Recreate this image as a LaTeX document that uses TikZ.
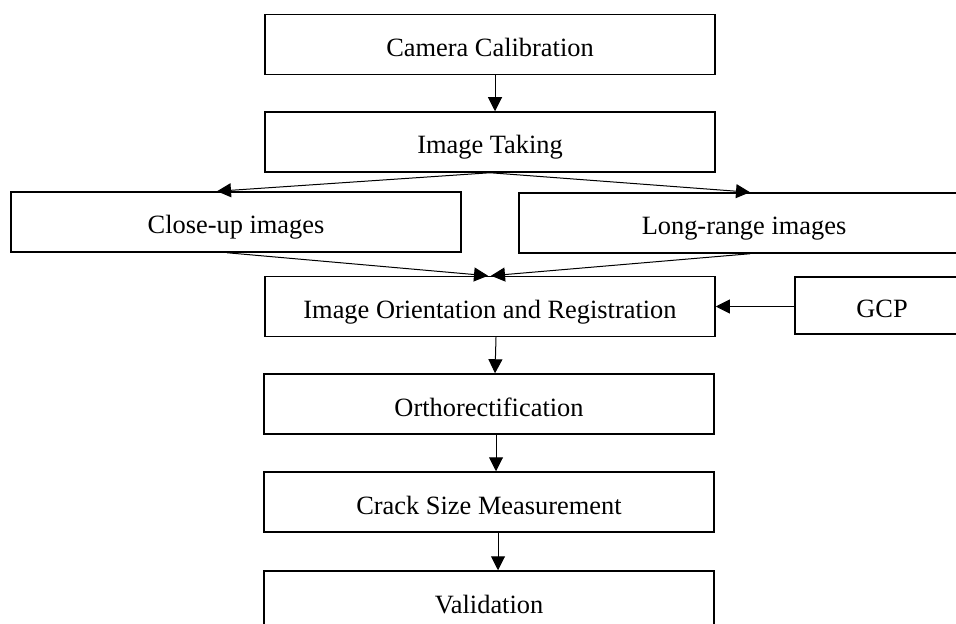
\documentclass[tikz,border=0pt]{standalone}
\usepackage{fontspec}
\setmainfont{Liberation Serif}
\usetikzlibrary{arrows.meta}

\begin{document}
\begin{tikzpicture}[x=0.5pt, y=-0.5pt,
    stage/.style={draw, line width=0.75pt, minimum width=225pt, minimum height=30pt,
        inner sep=0pt, text height=12pt, text depth=0pt,
        font=\fontsize{13.2}{15}\selectfont},
    flow/.style={-{Triangle[length=7pt, width=7pt]}, line width=0.5pt}]
    \useasboundingbox (0,0) rectangle (956,624);

    \node[stage] (cam) at (490,44.5) {Camera Calibration};
    \node[stage] (take) at (490,142) {Image Taking};
    \node[stage] (close) at (236,222) {Close-up images};
    \node[stage] (long) at (744,223) {Long-range images};
    \node[stage] (orient) at (490,306.5) {Image Orientation and Registration};
    \node[stage, minimum width=87pt, minimum height=28.5pt] (gcp) at (882,305.5) {GCP};
    \node[stage] (ortho) at (489,404) {Orthorectification};
    \node[stage] (crack) at (489,502) {Crack Size Measurement};
    \node[stage] (valid) at (489,601) {Validation};

    \path[flow] ([xshift=2.5pt]cam.south) edge ([xshift=2.5pt]take.north);
    \path[flow] (take.south) edge ([xshift=-9.5pt]close.north);
    \path[flow] (take.south) edge ([xshift=3pt]long.north);
    \path[flow] ([xshift=-4.5pt]close.south) edge ([xshift=-1pt]orient.north);
    \path[flow] ([xshift=3pt]long.south) edge ([xshift=0.5pt]orient.north);
    \path[flow] (gcp.west |- orient.east) edge (orient.east);
    \path[flow] ([xshift=3pt]orient.south) edge ([xshift=3pt]ortho.north);
    \path[flow] ([xshift=3.5pt]ortho.south) edge ([xshift=3.5pt]crack.north);
    \path[flow] ([xshift=4.5pt]crack.south) edge ([xshift=4.5pt]valid.north);
\end{tikzpicture}
\end{document}
